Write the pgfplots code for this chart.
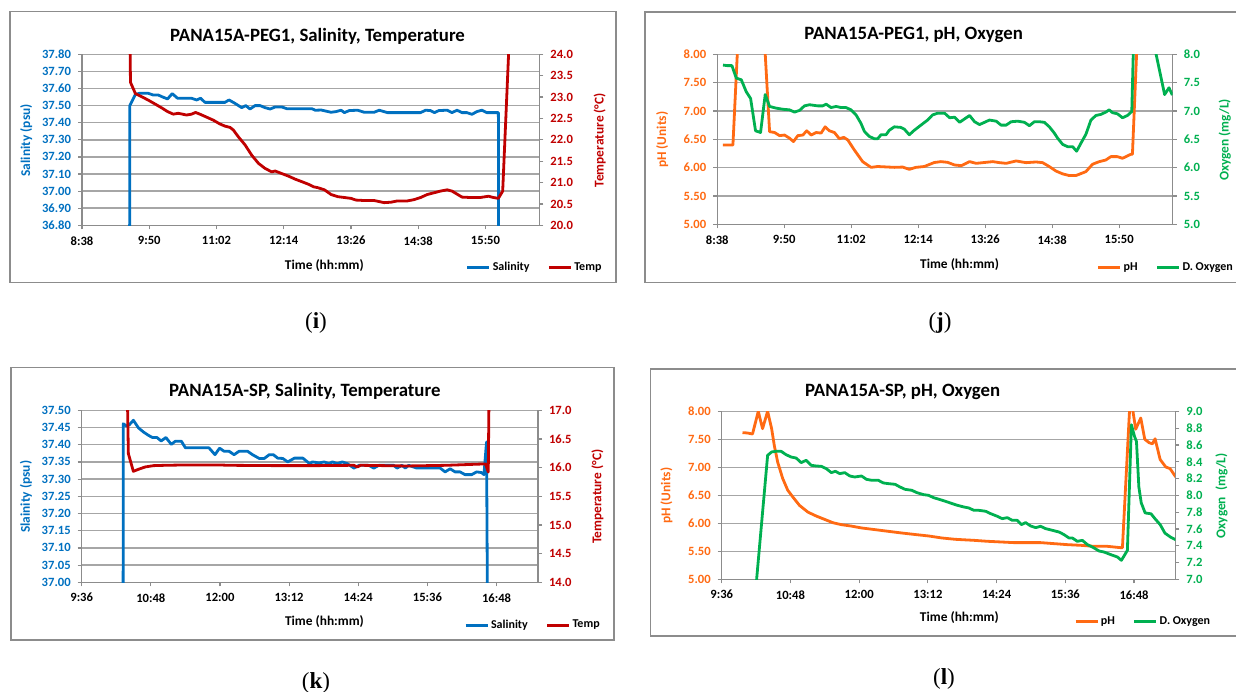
\documentclass[border=0pt]{standalone}
\usepackage{fontspec}
\setmainfont{Carlito}
\newfontfamily\capfont{Liberation Serif}
\usepackage{pgfplots}
\pgfplotsset{compat=1.18}

\definecolor{salblue}{HTML}{0070C0}
\definecolor{tempred}{HTML}{C00000}
\definecolor{phorange}{HTML}{FF6A13}
\definecolor{oxgreen}{HTML}{00B050}
\definecolor{gridgray}{HTML}{A6A6A6}
\definecolor{axgray}{HTML}{8C8C8C}

\newcommand{\tickfont}{\bfseries\fontsize{6.3}{7}\selectfont}
\newcommand{\labfont}{\bfseries\fontsize{6.7}{8}\selectfont}
\newcommand{\titfont}{\bfseries\fontsize{9.4}{11}\selectfont}
\newcommand{\legfont}{\bfseries\fontsize{6}{7}\selectfont}

\pgfplotsset{
  every axis title shift=0pt,
  panel/.style={scale only axis, clip=true,
    /pgf/number format/assume math mode=true,
    tick label style={font=\tickfont},
    label style={font=\labfont},
    tick align=outside, major tick length=2pt,
    axis line style={axgray, line width=0.6pt},
    major tick style={axgray, line width=0.6pt},
    every axis plot/.append style={line width=1.4pt, line join=round, mark=none},
  },
  leftax/.style={panel, axis x line*=bottom, axis y line*=left,
    ymajorgrids, grid style={gridgray, line width=0.75pt},
    xlabel={Time (hh:mm)}, xticklabel style={black},
  },
  rightax/.style={panel, axis x line=none, axis y line*=right, xtick=\empty,
    legend style={draw=none, fill=none, font=\legfont, legend columns=2,
      /tikz/every even column/.append style={column sep=8pt},
      inner sep=0pt, nodes={inner xsep=1pt, inner ysep=0pt}},
    legend image code/.code={\draw[#1] (0pt,0pt) -- (11pt,0pt);},
  },
  daysA/.style={xmin=518.4, xmax=1008,
    xtick={518.4,590.4,662.4,734.4,806.4,878.4,950.4},
    xticklabels={8:38,9:50,11:02,12:14,13:26,14:38,15:50}},
  daysB/.style={xmin=576, xmax=1051.2,
    xtick={576,648,720,792,864,936,1008},
    xticklabels={9:36,10:48,12:00,13:12,14:24,15:36,16:48}},
  prec2/.style={yticklabel style={/pgf/number format/fixed, /pgf/number format/fixed zerofill, /pgf/number format/precision=2}},
  prec1/.style={yticklabel style={/pgf/number format/fixed, /pgf/number format/fixed zerofill, /pgf/number format/precision=1}},
}

\begin{document}
\begin{tikzpicture}
\useasboundingbox (0,0) rectangle (618pt,-345.5pt);

\begin{scope}[x=0.5pt,y=-0.5pt]
\draw[axgray, line width=0.7pt] (10,11.5) rectangle (616,282.2);
\draw[axgray, line width=0.7pt] (645,11.8) rectangle (1240,282.5);
\draw[axgray, line width=0.7pt] (11,367.7) rectangle (614,640);
\draw[axgray, line width=0.7pt] (650.6,368.9) rectangle (1240,636.1);
\node[font=\capfont\fontsize{11.5}{13}\selectfont] at (316,323) {(\textbf{i})};
\node[font=\capfont\fontsize{11.5}{13}\selectfont] at (940,323) {(\textbf{j})};
\node[font=\capfont\fontsize{11.5}{13}\selectfont] at (316,683) {(\textbf{k})};
\node[font=\capfont\fontsize{11.5}{13}\selectfont] at (944,679) {(\textbf{l})};
\end{scope}

% ---------- (i) salinity / temperature
\begin{axis}[leftax, daysA, prec2, at={(41pt,-27.15pt)}, anchor=north west,
  width=228.65pt, height=85.5pt, ymin=36.8, ymax=37.8,
  ytick={36.8,36.9,37.0,37.1,37.2,37.3,37.4,37.5,37.6,37.7,37.8},
  yticklabel style={salblue}, ylabel={Salinity (psu)},
  ylabel style={salblue, at={(axis description cs:-0.1218,0.497)}, anchor=center},
  xlabel style={at={(axis description cs:0.530,-0.2345)}, anchor=center},
  title={PANA15A-PEG1, Salinity, Temperature},
  title style={font=\titfont, at={(axis description cs:0.515,1.1035)}, anchor=center}]
\addplot[salblue] coordinates {
(569.2,36.0) (569.6,37.50) (575.6,37.566) (580.3,37.572) (589.2,37.572) (594.6,37.562)
(600.0,37.562) (605.3,37.549) (610.0,37.539) (615.0,37.570) (620.7,37.543) (635.7,37.543)
(641.1,37.533) (645.4,37.543) (650.0,37.519) (671.5,37.519) (675.8,37.533) (682.2,37.513)
(689.4,37.488) (693.7,37.500) (698.3,37.480) (703.7,37.500) (709.1,37.500) (714.4,37.488)
(719.8,37.480) (725.2,37.492) (732.3,37.492) (737.7,37.482) (764.5,37.482) (768.1,37.473)
(774.5,37.474) (785.1,37.461) (790.4,37.465) (795.8,37.473) (799.3,37.459) (804.6,37.471)
(813.5,37.473) (820.6,37.461) (831.2,37.461) (836.6,37.473) (845.4,37.459) (880.9,37.459)
(886.2,37.473) (891.5,37.471) (895.8,37.459) (900.4,37.471) (909.3,37.473) (914.6,37.459)
(919.9,37.473) (925.2,37.459) (930.5,37.459) (935.9,37.449) (941.2,37.465) (946.5,37.473)
(951.8,37.459) (964.2,37.459) (964.6,36.0)};
\end{axis}
\begin{axis}[rightax, daysA, prec1, at={(41pt,-27.15pt)}, anchor=north west,
  width=228.65pt, height=85.5pt, ymin=20, ymax=24,
  ytick={20,20.5,21,21.5,22,22.5,23,23.5,24},
  yticklabel style={tempred}, ylabel={Temperature (°C)},
  ylabel style={tempred, at={(axis description cs:1.132,0.497)}, anchor=center},
  legend style={at={(axis description cs:0.99,-0.2485)}, anchor=center}]
\addlegendimage{salblue, line width=1.4pt}
\addlegendentry{Salinity}
\addplot[tempred] coordinates {
(569.4,25.0) (570.3,23.345) (575.6,23.08) (582.1,23.01) (589.2,22.93) (596.4,22.84)
(603.5,22.75) (610.0,22.66) (616.1,22.60) (621.4,22.62) (630.4,22.58) (635.7,22.60)
(640.0,22.64) (644.6,22.60) (651.8,22.53) (658.9,22.46) (666.1,22.37) (671.5,22.32)
(676.9,22.29) (680.4,22.23) (685.8,22.07) (693.0,21.88) (700.1,21.64) (707.3,21.45)
(714.4,21.33) (721.6,21.25) (725.2,21.27) (732.3,21.21) (739.5,21.15) (746.6,21.08)
(753.8,21.02) (760.9,20.96) (766.3,20.90) (770.9,20.88) (778.0,20.83) (785.1,20.72)
(792.2,20.67) (799.3,20.65) (806.4,20.63) (811.7,20.59) (820.6,20.58) (831.2,20.58)
(841.9,20.53) (849.0,20.54) (856.1,20.57) (866.7,20.57) (873.8,20.60) (880.9,20.65)
(888.0,20.72) (895.1,20.76) (902.2,20.80) (909.3,20.83) (914.6,20.80) (919.9,20.73)
(925.2,20.66) (934.1,20.65) (944.7,20.65) (953.6,20.68) (958.9,20.65) (964.2,20.63)
(968.8,20.80) (975.5,24.2)};
\addlegendentry{Temp}
\end{axis}

% ---------- (j) pH / oxygen
\begin{axis}[leftax, daysA, prec2, at={(358.65pt,-27.15pt)}, anchor=north west,
  width=227.7pt, height=85pt, ymin=5, ymax=8,
  ytick={5,5.5,6,6.5,7,7.5,8},
  yticklabel style={phorange}, ylabel={pH (Units)},
  ylabel style={phorange, at={(axis description cs:-0.121,0.497)}, anchor=center},
  xlabel style={at={(axis description cs:0.532,-0.235)}, anchor=center},
  title={PANA15A-PEG1, pH, Oxygen},
  title style={font=\titfont, at={(axis description cs:0.431,1.1135)}, anchor=center}]
\addplot[phorange] coordinates {
(524.5,6.40) (535.2,6.40) (540.6,8.25) (554.9,9.0) (568.5,8.42) (574.6,6.635)
(580.0,6.62) (585.3,6.565) (590.7,6.575) (596.0,6.52) (600.3,6.46) (605.0,6.565)
(610.3,6.575) (614.6,6.65) (619.3,6.575) (624.6,6.62) (630.0,6.61) (634.3,6.72)
(638.9,6.65) (644.3,6.62) (649.7,6.51) (654.3,6.535) (658.6,6.49) (665.8,6.31)
(674.7,6.105) (683.7,6.005) (690.8,6.02) (708.7,6.005) (717.6,6.01) (724.8,5.97)
(731.9,6.005) (740.9,6.02) (751.6,6.09) (758.8,6.106) (765.9,6.094) (773.5,6.047)
(780.7,6.035) (789.6,6.106) (796.8,6.076) (814.6,6.106) (821.8,6.088) (829.0,6.076)
(839.6,6.118) (850.3,6.088) (861.1,6.10) (868.2,6.088) (875.4,6.018) (882.5,5.94)
(889.7,5.89) (896.8,5.86) (903.9,5.86) (914.7,5.93) (921.8,6.06) (929.0,6.106)
(936.1,6.135) (941.5,6.194) (948.6,6.194) (954.0,6.165) (962.9,6.235) (964.7,6.235)
(970.1,8.38) (1010,8.6)};
\end{axis}
\begin{axis}[rightax, daysA, prec1, at={(358.65pt,-27.15pt)}, anchor=north west,
  width=227.7pt, height=85pt, ymin=5, ymax=8,
  ytick={5,5.5,6,6.5,7,7.5,8},
  yticklabel style={oxgreen}, ylabel={Oxygen (mg/L)},
  ylabel style={oxgreen, at={(axis description cs:1.1144,0.497)}, anchor=center},
  legend style={at={(axis description cs:0.985,-0.2547)}, anchor=center}]
\addlegendimage{phorange, line width=1.4pt}
\addlegendentry{pH}
\addplot[oxgreen] coordinates {
(524.5,7.81) (529.1,7.80) (534.1,7.80) (538.8,7.58) (544.2,7.55) (549.5,7.34)
(554.2,7.22) (559.5,6.65) (564.9,6.62) (569.9,7.29) (574.6,7.08) (581.7,7.05)
(588.9,7.03) (596.0,7.02) (601.4,6.98) (606.8,7.01) (612.1,7.09) (617.5,7.11)
(626.4,7.09) (631.8,7.09) (635.4,7.12) (640.7,7.06) (646.1,7.08) (651.5,7.06)
(656.8,7.06) (662.2,7.02) (667.6,6.93) (672.9,6.78) (676.5,6.64) (681.9,6.55)
(687.2,6.51) (690.8,6.51) (694.4,6.58) (699.8,6.58) (703.3,6.66) (708.7,6.72)
(715.8,6.71) (719.4,6.68) (724.8,6.58) (730.2,6.66) (737.3,6.75) (744.5,6.84)
(749.8,6.93) (755.2,6.96) (762.8,6.96) (768.2,6.88) (773.5,6.89) (778.9,6.80)
(784.2,6.86) (789.6,6.92) (795.0,6.81) (800.3,6.76) (805.7,6.80) (811.0,6.84)
(818.2,6.82) (823.5,6.75) (828.9,6.75) (834.3,6.81) (841.4,6.82) (848.6,6.80)
(853.9,6.74) (859.3,6.81) (864.7,6.81) (870.0,6.80) (875.4,6.72) (880.7,6.61)
(884.3,6.52) (889.7,6.41) (895.0,6.37) (900.4,6.37) (904.7,6.29) (909.3,6.43)
(914.7,6.59) (920.1,6.84) (925.4,6.92) (930.8,6.94) (936.1,6.98) (939.7,7.02)
(943.2,6.97) (948.6,6.95) (954.0,6.88) (959.3,6.92) (964.0,6.99) (966.5,8.6)
(985.0,8.4) (999.3,7.29) (1004.0,7.41) (1007.6,7.28)};
\addlegendentry{D. Oxygen}
\end{axis}

% ---------- (k) salinity / temperature
\begin{axis}[leftax, daysB, prec2, at={(40.85pt,-205.15pt)}, anchor=north west,
  width=228.15pt, height=86pt, ymin=37, ymax=37.5,
  ytick={37,37.05,37.1,37.15,37.2,37.25,37.3,37.35,37.4,37.45,37.5},
  yticklabel style={salblue}, ylabel={Slainity (psu)},
  ylabel style={salblue, at={(axis description cs:-0.122,0.497)}, anchor=center},
  xlabel style={at={(axis description cs:0.532,-0.228)}, anchor=center},
  title={PANA15A-SP, Salinity, Temperature},
  title style={font=\titfont, at={(axis description cs:0.489,1.110)}, anchor=center}]
\addplot[salblue] coordinates {
(619.0,36.5) (619.3,37.461) (622.8,37.454) (625.6,37.458) (629.8,37.471) (635.1,37.449)
(640.3,37.437) (645.6,37.427) (649.7,37.421) (654.3,37.421) (658.8,37.411) (663.7,37.421)
(669.3,37.401) (673.5,37.410) (679.8,37.410) (684.0,37.391) (689.2,37.391) (708.5,37.391)
(714.8,37.371) (719.6,37.390) (724.2,37.381) (729.4,37.381) (734.7,37.371) (739.9,37.381)
(748.7,37.381) (753.9,37.371) (760.9,37.360) (766.1,37.360) (771.4,37.371) (775.6,37.371)
(780.1,37.361) (785.4,37.360) (790.6,37.350) (797.6,37.361) (806.3,37.361) (813.3,37.345)
(816.3,37.350) (823.3,37.347) (828.4,37.350) (833.6,37.345) (837.1,37.350) (842.2,37.345)
(847.4,37.350) (852.6,37.345) (859.5,37.332) (864.7,37.340) (875.0,37.340) (880.2,37.332)
(885.4,37.340) (900.9,37.340) (904.4,37.332) (909.6,37.340) (913.0,37.332) (916.5,37.340)
(925.1,37.332) (949.3,37.332) (954.5,37.321) (959.7,37.330) (964.8,37.321) (970.0,37.321)
(975.2,37.313) (982.1,37.313) (987.3,37.321) (992.4,37.319) (994.9,37.313) (997.6,37.408)
(999.4,36.5)};
\end{axis}
\begin{axis}[rightax, daysB, prec1, at={(40.85pt,-205.15pt)}, anchor=north west,
  width=228.15pt, height=86pt, ymin=14, ymax=17,
  ytick={14,14.5,15,15.5,16,16.5,17},
  yticklabel style={tempred}, ylabel={Temperature (°C)},
  ylabel style={tempred, at={(axis description cs:1.13,0.497)}, anchor=center},
  legend style={at={(axis description cs:0.989,-0.2512)}, anchor=center}]
\addlegendimage{salblue, line width=1.4pt}
\addlegendentry{Salinity}
\addplot[tempred] coordinates {
(622.8,18.0) (624.6,16.244) (629.8,15.936) (635.1,15.971) (642.1,16.012) (650.8,16.035)
(663.0,16.041) (684.0,16.047) (718.9,16.047) (729.4,16.041) (778.4,16.035) (820.3,16.035)
(859.5,16.041) (863.0,16.012) (866.4,16.041) (914.8,16.029) (956.2,16.041) (994.2,16.064)
(996.6,16.064) (999.4,15.924) (1000.6,18.0)};
\addlegendentry{Temp}
\end{axis}

% ---------- (l) pH / oxygen
\begin{axis}[leftax, daysB, prec2, at={(360.85pt,-205.65pt)}, anchor=north west,
  width=226.8pt, height=84pt, ymin=5, ymax=8,
  ytick={5,5.5,6,6.5,7,7.5,8},
  yticklabel style={phorange}, ylabel={pH (Units)},
  ylabel style={phorange, at={(axis description cs:-0.122,0.497)}, anchor=center},
  xlabel style={at={(axis description cs:0.524,-0.228)}, anchor=center},
  title={PANA15A-SP, pH, Oxygen},
  title style={font=\titfont, at={(axis description cs:0.399,1.1155)}, anchor=center}]
\addplot[phorange] coordinates {
(597.8,7.619) (603.0,7.613) (608.3,7.595) (614.3,8.0) (618.8,7.69) (624.1,8.0)
(628.3,7.69) (631.1,7.39) (634.6,7.095) (639.9,6.80) (645.2,6.59) (650.5,6.47)
(657.5,6.32) (666.3,6.20) (675.0,6.13) (683.8,6.07) (692.6,6.01) (701.4,5.976)
(711.9,5.95) (722.5,5.917) (736.5,5.887) (750.5,5.857) (764.6,5.827) (778.6,5.80)
(792.7,5.774) (806.7,5.738) (820.8,5.714) (840.2,5.696) (854.2,5.679) (868.2,5.667)
(882.2,5.655) (896.2,5.655) (910.1,5.655) (924.1,5.637) (938.1,5.619) (952.1,5.607)
(966.1,5.589) (980.0,5.589) (994.0,5.565) (995.8,5.565) (1004.1,8.3) (1009.7,7.68)
(1015.0,7.88) (1019.2,7.50) (1023.7,7.44) (1027.2,7.42) (1030.0,7.51) (1035.3,7.14)
(1041.2,7.006) (1045.7,6.976) (1051.7,6.827)};
\end{axis}
\begin{axis}[rightax, daysB, prec1, at={(360.85pt,-205.65pt)}, anchor=north west,
  width=226.8pt, height=84pt, ymin=7, ymax=9,
  ytick={7,7.2,7.4,7.6,7.8,8,8.2,8.4,8.6,8.8,9},
  yticklabel style={oxgreen}, ylabel={Oxygen\ \ (mg/L)},
  ylabel style={oxgreen, at={(axis description cs:1.102,0.497)}, anchor=center},
  legend style={at={(axis description cs:0.929,-0.252)}, anchor=center}]
\addlegendimage{phorange, line width=1.4pt}
\addlegendentry{pH}
\addplot[oxgreen] coordinates {
(611.8,6.9) (624.1,8.476) (628.3,8.516) (632.9,8.524) (638.2,8.524) (643.4,8.484)
(648.7,8.456) (654.0,8.444) (659.2,8.389) (664.5,8.417) (669.8,8.357) (675.0,8.349)
(680.3,8.345) (685.6,8.317) (690.8,8.270) (695.1,8.286) (699.6,8.258) (704.9,8.270)
(710.2,8.230) (715.4,8.218) (722.5,8.230) (727.7,8.190) (733.0,8.179) (740.0,8.179)
(745.3,8.147) (750.5,8.139) (757.6,8.131) (762.8,8.099) (768.1,8.071) (775.1,8.060)
(780.4,8.032) (787.4,8.008) (792.7,8.000) (798.0,7.972) (805.0,7.948) (810.3,7.929)
(817.5,7.901) (822.8,7.881) (829.7,7.861) (835.0,7.849) (840.2,7.821) (845.5,7.821)
(852.5,7.810) (857.7,7.782) (864.7,7.750) (869.9,7.722) (875.2,7.734) (880.4,7.702)
(885.7,7.702) (889.9,7.651) (894.4,7.675) (899.6,7.635) (904.9,7.615) (910.1,7.631)
(915.4,7.603) (922.4,7.583) (929.4,7.563) (934.6,7.532) (939.8,7.492) (943.3,7.492)
(948.6,7.452) (953.8,7.464) (959.1,7.413) (966.1,7.373) (971.3,7.337) (976.5,7.325)
(983.5,7.294) (990.5,7.266) (994.7,7.226) (997.5,7.278) (1001.0,7.345) (1005.2,8.84)
(1008.5,8.70) (1010.5,8.64) (1013.0,8.10) (1015.5,7.91) (1019.6,7.79) (1025.8,7.78)
(1030.0,7.72) (1035.4,7.65) (1040.3,7.55) (1046.5,7.50) (1051.7,7.47)};
\addlegendentry{D. Oxygen}
\end{axis}
\end{tikzpicture}
\end{document}
